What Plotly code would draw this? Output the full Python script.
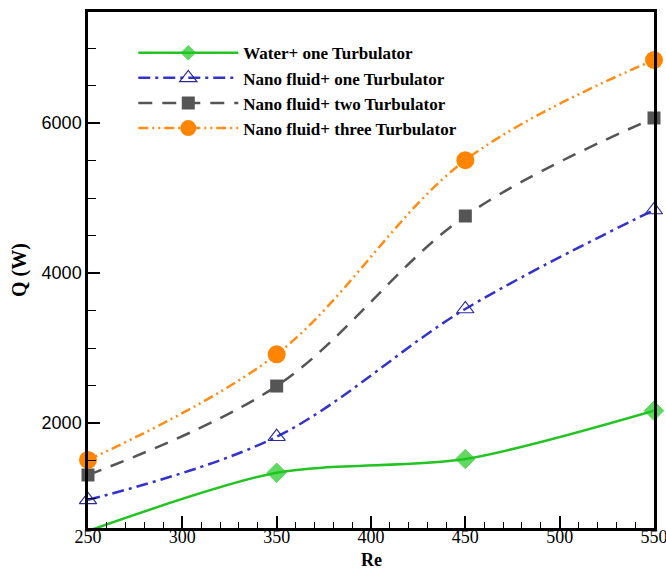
import plotly.graph_objects as go

re_vals = [250, 350, 450, 550]
water_one = [560, 1337, 1520, 2164]
nano_one = [975, 1817, 3520, 4840]
nano_two = [1307, 2493, 4760, 6067]
nano_three = [1507, 2916, 5505, 6840]

x_ticks = [250, 300, 350, 400, 450, 500, 550]
y_ticks = [2000, 4000, 6000]

names = ["Water+ one Turbulator", "Nano fluid+ one Turbulator",
         "Nano fluid+ two Turbulator", "Nano fluid+ three Turbulator"]

SERIF = "Liberation Serif"
SANS = "Liberation Sans"

fig = go.Figure()
fig.add_trace(go.Scatter(
    x=re_vals, y=water_one, name=names[0], mode="lines+markers",
    line=dict(color="#22c322", width=2.5, shape="spline", smoothing=0.8),
    marker=dict(symbol="diamond", size=[0, 15, 15, 15], color="#1fc81f"),
    cliponaxis=False))
fig.add_trace(go.Scatter(
    x=re_vals, y=nano_one, name=names[1], mode="lines+markers",
    line=dict(color="#3333cc", width=2.5, shape="spline", dash="12px,5px,3px,5px"),
    marker=dict(symbol="triangle-up-open", size=15, color="#2a2a9a", line=dict(width=1.2)),
    cliponaxis=False))
fig.add_trace(go.Scatter(
    x=re_vals, y=nano_two, name=names[2], mode="lines+markers",
    line=dict(color="#555555", width=2.5, shape="spline", dash="14px,10px"),
    marker=dict(symbol="square", size=13, color="#555555"),
    cliponaxis=False))
fig.add_trace(go.Scatter(
    x=re_vals, y=nano_three, name=names[3], mode="lines+markers",
    line=dict(color="#ff8c14", width=2.5, shape="spline", dash="10px,4px,2px,4px,2px,4px"),
    marker=dict(symbol="circle", size=18, color="#ff8400"),
    cliponaxis=False))

fig.update_layout(
    width=666, height=571,
    margin=dict(l=88, r=12, t=12, b=43),
    paper_bgcolor="white", plot_bgcolor="white",
    font=dict(family=SERIF, size=18, color="black"),
    showlegend=True,
    legend=dict(x=0.08, y=0.955, xanchor="left", yanchor="top",
                bgcolor="rgba(0,0,0,0)", borderwidth=0,
                itemwidth=100, tracegroupgap=0,
                font=dict(family=SERIF, size=17, color="black", weight="bold")),
    xaxis=dict(range=[250, 550], tickvals=x_ticks, ticks="inside", ticklen=12,
               tickwidth=2, tickcolor="black", showgrid=False, zeroline=False,
               showline=True, linecolor="black", linewidth=2.5, mirror=True,
               automargin=False, ticklabeloverflow="allow", ticklabelstandoff=-9,
               tickfont=dict(family=SERIF, size=18, color="black"),
               minor=dict(dtick=10, ticks="inside", ticklen=6, tickwidth=1, tickcolor="black")),
    yaxis=dict(range=[600, 7480], tickvals=y_ticks, ticks="inside", ticklen=12,
               tickwidth=2, tickcolor="black", showgrid=False, zeroline=False,
               showline=True, linecolor="black", linewidth=2.5, mirror=True,
               automargin=False,
               tickfont=dict(family=SANS, size=18, color="black"),
               minor=dict(dtick=500, ticks="inside", ticklen=8, tickwidth=1, tickcolor="black"),
               title=dict(text="<b>Q (W)</b>", standoff=10,
                          font=dict(family=SERIF, size=20, color="black"))),
    annotations=[dict(text="<b>Re</b>", x=0.5, y=0, xref="paper", yref="paper",
                      xanchor="center", yanchor="top", yshift=-21, showarrow=False,
                      borderpad=0,
                      font=dict(family=SERIF, size=18, color="black"))],
)

fig.write_html("out.html")
